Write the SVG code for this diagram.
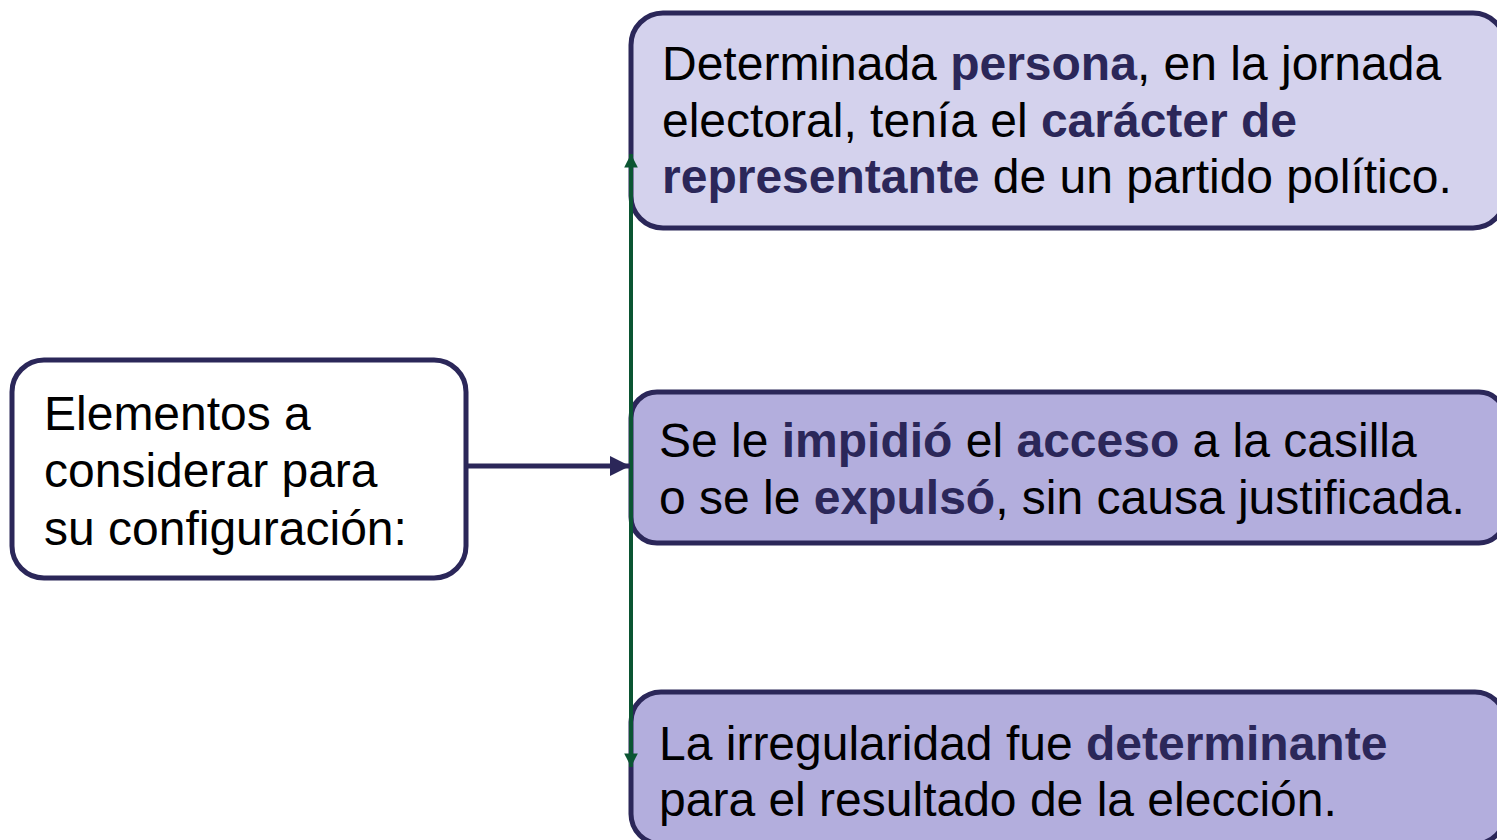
<svg xmlns="http://www.w3.org/2000/svg" width="1497" height="840" viewBox="0 0 1497 840">
<style>
.box{stroke:#2b2759;stroke-width:5}
.t{font-family:"Liberation Sans",Arial,sans-serif;font-size:48px;fill:#000}
.b{font-weight:bold;fill:#2b2759}
</style>
<defs>
<marker id="ah" viewBox="0 0 10 10" refX="10" refY="5" markerWidth="4" markerHeight="4" orient="auto" markerUnits="strokeWidth"><path d="M0,0 L10,5 L0,10 z" fill="#2b2759"/></marker>
<marker id="ag" viewBox="0 0 10 10" refX="10" refY="5" markerWidth="3.6" markerHeight="3.4" orient="auto" markerUnits="strokeWidth"><path d="M0,0 L10,5 L0,10 z" fill="#0b5532"/></marker>
</defs>
<g id="node-left">
<rect class="box" x="12" y="360" width="454" height="218" rx="32" fill="#fff"/>
<text class="t" x="44" y="430">Elementos a</text>
<text class="t" x="44" y="487">considerar para</text>
<text class="t" x="44" y="545">su configuración:</text>
</g>
<g id="node-top">
<rect class="box" x="631" y="13" width="874" height="215" rx="32" fill="#d4d2ed"/>
<text class="t" x="662" y="80">Determinada <tspan class="b">persona</tspan>, en la jornada</text>
<text class="t" x="662" y="137">electoral, tenía el <tspan class="b">carácter de</tspan></text>
<text class="t" x="662" y="193"><tspan class="b">representante</tspan> de un partido político.</text>
</g>
<g id="node-mid">
<rect class="box" x="631" y="392" width="874" height="151" rx="26" fill="#b3aedd"/>
<text class="t" x="659" y="457">Se le <tspan class="b">impidió</tspan> el <tspan class="b">acceso</tspan> a la casilla</text>
<text class="t" x="659" y="514">o se le <tspan class="b">expulsó</tspan>, sin causa justificada.</text>
</g>
<g id="node-bot">
<rect class="box" x="631" y="692" width="874" height="152" rx="30" fill="#b3aedd"/>
<text class="t" x="659" y="760">La irregularidad fue <tspan class="b">determinante</tspan></text>
<text class="t" x="659" y="816">para el resultado de la elección.</text>
</g>
<g id="connectors">
<line x1="631" y1="466" x2="631" y2="154" stroke="#0b5532" stroke-width="4" marker-end="url(#ag)"/>
<line x1="631" y1="466" x2="631" y2="767" stroke="#0b5532" stroke-width="4" marker-end="url(#ag)"/>
<line x1="466" y1="466" x2="630" y2="466" stroke="#2b2759" stroke-width="5" marker-end="url(#ah)"/>
</g>
</svg>
